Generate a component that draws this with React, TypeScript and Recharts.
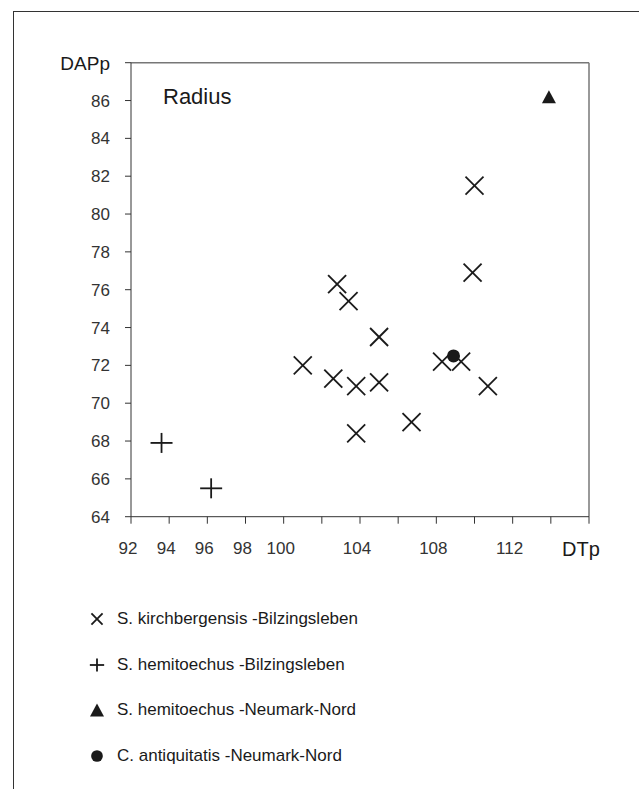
import { ScatterChart, Scatter, XAxis, YAxis, ReferenceLine } from 'recharts'

// DTp (x) and DAPp (y) values
const kirchbergX = [101.0, 102.6, 102.8, 103.4, 103.8, 103.8, 105.0, 105.0, 106.7, 108.3, 109.3, 110.7, 109.9, 110.0]
const kirchbergY = [72.0, 71.3, 76.3, 75.4, 70.9, 68.4, 73.5, 71.1, 69.0, 72.2, 72.2, 70.9, 76.9, 81.5]
const hemiBilzX = [93.6, 96.2]
const hemiBilzY = [67.9, 65.5]
const hemiNeumarkX = [113.9]
const hemiNeumarkY = [86.2]
const antiqX = [108.9]
const antiqY = [72.5]

const xTicks = [92, 94, 96, 98, 100, 102, 104, 106, 108, 110, 112, 114, 116]
const xLabeled = [92, 94, 96, 98, 100, 104, 108, 112]
const yTicks = [64, 66, 68, 70, 72, 74, 76, 78, 80, 82, 84, 86, 88]

const legendItems = [
  { shape: 'cross', label: 'S. kirchbergensis -Bilzingsleben' },
  { shape: 'plus', label: 'S. hemitoechus -Bilzingsleben' },
  { shape: 'triangle', label: 'S. hemitoechus -Neumark-Nord' },
  { shape: 'dot', label: 'C. antiquitatis -Neumark-Nord' },
]

const FONT = "'Liberation Sans', Arial, sans-serif"
const INK = '#1a1a1a'

const zip = (xs: number[], ys: number[]) => xs.map((x, i) => ({ x, y: ys[i] }))

// legend markers are a bit smaller than the plotted ones
const LEGEND_SCALE: Record<string, number> = { cross: 0.62, plus: 0.65, triangle: 1, dot: 0.9 }

function Marker({ kind, cx, cy, s = 1 }: { kind: string; cx: number; cy: number; s?: number }) {
  if (kind === 'cross') {
    const h = 9 * s
    return (
      <g stroke={INK} strokeWidth={1.8}>
        <line x1={cx - h} y1={cy - h} x2={cx + h} y2={cy + h} />
        <line x1={cx - h} y1={cy + h} x2={cx + h} y2={cy - h} />
      </g>
    )
  }
  if (kind === 'plus') {
    const w = 11 * s
    const h = 10 * s
    return (
      <g stroke={INK} strokeWidth={1.8}>
        <line x1={cx - w} y1={cy} x2={cx + w} y2={cy} />
        <line x1={cx} y1={cy - h} x2={cx} y2={cy + h} />
      </g>
    )
  }
  if (kind === 'triangle') {
    const w = 7 * s
    const h = 6.5 * s
    return <polygon points={`${cx},${cy - h} ${cx + w},${cy + h} ${cx - w},${cy + h}`} fill={INK} />
  }
  return <circle cx={cx} cy={cy} r={6.5 * s} fill={INK} />
}

const shapeOf = (kind: string) => (props: any) => <Marker kind={kind} cx={props.cx} cy={props.cy} />

function XTick({ x, y, payload }: any) {
  const v = payload.value
  if (v === 116) {
    return <text x={x - 8} y={y} dy="0.71em" textAnchor="middle" fontSize={20} fontFamily={FONT} fill={INK}>DTp</text>
  }
  if (!xLabeled.includes(v)) return null
  return <text x={x - 3} y={y} dy="0.71em" textAnchor="middle" fontSize={17} fontFamily={FONT} fill="#333">{v}</text>
}

function YTick({ x, y, payload }: any) {
  const v = payload.value
  if (v === 88) {
    return <text x={x} y={y} dy="0.36em" textAnchor="end" fontSize={19} fontFamily={FONT} fill={INK}>DAPp</text>
  }
  return <text x={x} y={y} dy="0.36em" textAnchor="end" fontSize={17} fontFamily={FONT} fill="#333">{v}</text>
}

export default function App() {
  return (
    <div style={{ position: 'absolute', left: 0, top: 0, width: 639, height: 789, background: '#fff', fontFamily: FONT }}>
      <div style={{ position: 'absolute', left: 13, top: 11, width: 626, height: 778, borderTop: '1px solid #333', borderLeft: '1px solid #333', boxSizing: 'border-box' }} />
      <div style={{ position: 'absolute', left: 0, top: 0 }}>
        <ScatterChart width={639} height={789} margin={{ top: 62.7, right: 50, bottom: 222.3, left: 71 }}>
          <XAxis
            type="number"
            dataKey="x"
            domain={[92, 116]}
            ticks={xTicks}
            interval={0}
            tick={<XTick />}
            tickSize={7}
            tickMargin={18}
            height={50}
            axisLine={{ stroke: '#333' }}
            tickLine={{ stroke: '#333' }}
          />
          <YAxis
            type="number"
            dataKey="y"
            domain={[64, 88]}
            ticks={yTicks}
            interval={0}
            tick={<YTick />}
            tickSize={6}
            tickMargin={15}
            width={60}
            axisLine={{ stroke: '#333' }}
            tickLine={{ stroke: '#333' }}
          />
          <ReferenceLine y={88} stroke="#777" strokeWidth={1.5} />
          <ReferenceLine x={116} stroke="#777" strokeWidth={1.5} />
          <Scatter data={zip(kirchbergX, kirchbergY)} shape={shapeOf('cross')} isAnimationActive={false} />
          <Scatter data={zip(hemiBilzX, hemiBilzY)} shape={shapeOf('plus')} isAnimationActive={false} />
          <Scatter data={zip(hemiNeumarkX, hemiNeumarkY)} shape={shapeOf('triangle')} isAnimationActive={false} />
          <Scatter data={zip(antiqX, antiqY)} shape={shapeOf('dot')} isAnimationActive={false} />
        </ScatterChart>
      </div>
      <div style={{ position: 'absolute', left: 163, top: 86, fontSize: 22, lineHeight: '22px', color: INK }}>Radius</div>
      {legendItems.map((item, i) => (
        <div key={item.label} style={{ position: 'absolute', left: 86, top: 607 + i * 45.5, height: 24, display: 'flex', alignItems: 'center' }}>
          <svg width={22} height={24} style={{ display: 'block' }}>
            <Marker kind={item.shape} cx={11} cy={12} s={LEGEND_SCALE[item.shape]} />
          </svg>
          <span style={{ marginLeft: 9, fontSize: 17, color: INK, whiteSpace: 'nowrap' }}>{item.label}</span>
        </div>
      ))}
    </div>
  )
}
